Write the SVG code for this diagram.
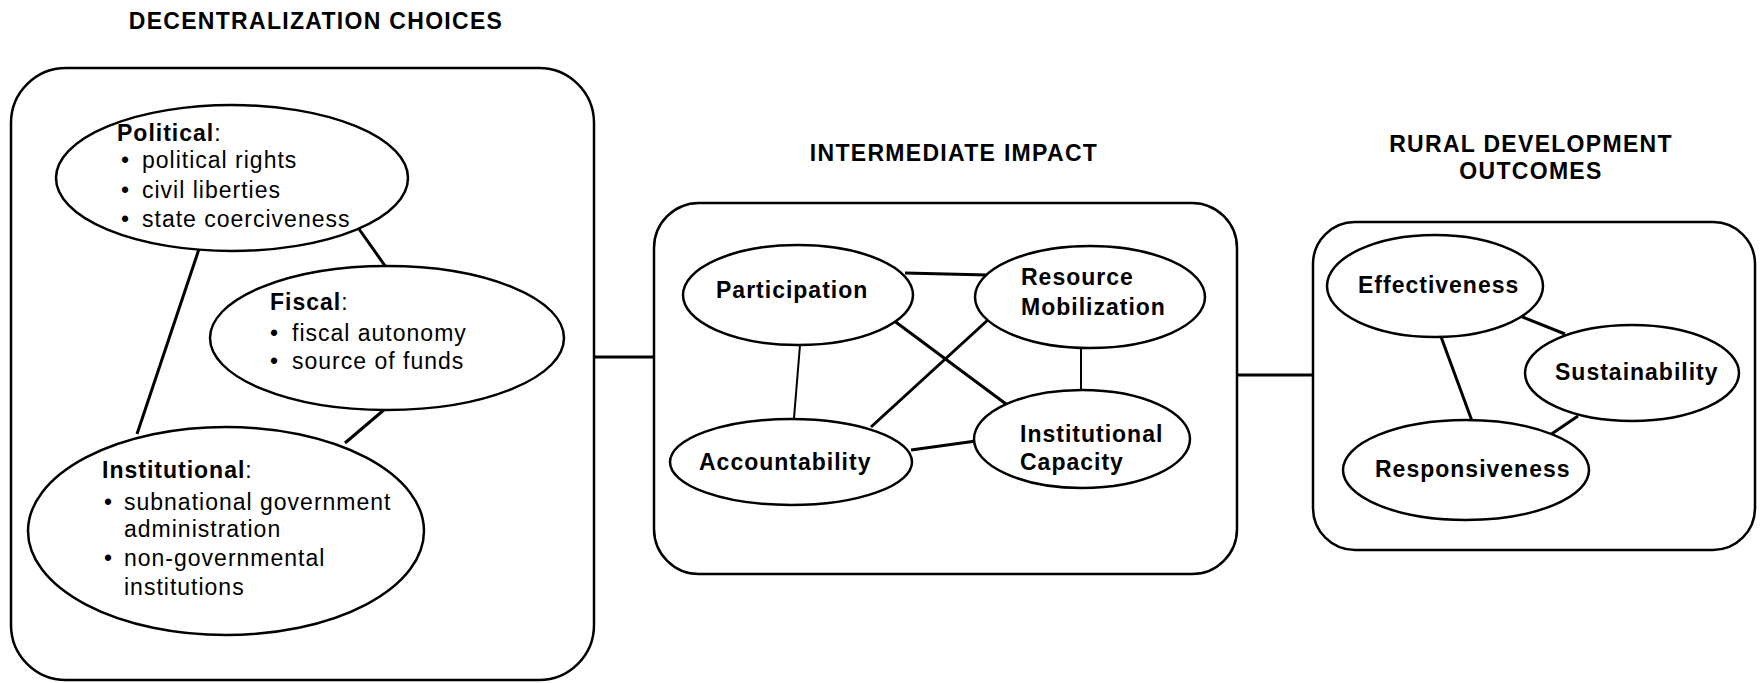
<svg xmlns="http://www.w3.org/2000/svg" width="1762" height="683" viewBox="0 0 1762 683">
<style>
.box{fill:none;stroke:#000;stroke-width:2.5}
.ell{fill:#fff;stroke:#000;stroke-width:2.5}
.ln{stroke:#000;stroke-width:3;fill:none}
.thin{stroke:#000;stroke-width:2;fill:none}
text{font-family:"Liberation Sans",Arial,sans-serif;font-size:23px;fill:#000;letter-spacing:1px}
.t{font-weight:bold;letter-spacing:1.3px;text-anchor:middle}
.b{font-weight:bold}
</style>
<rect width="1762" height="683" fill="#fff"/>
<text class="t" x="316" y="29">DECENTRALIZATION CHOICES</text>
<text class="t" x="954" y="161">INTERMEDIATE IMPACT</text>
<text class="t" x="1531" y="152">RURAL DEVELOPMENT</text>
<text class="t" x="1531" y="179">OUTCOMES</text>

<g id="box-left"><rect class="box" x="11" y="68" width="583" height="612" rx="55" ry="55"/></g>
<g id="box-middle"><rect class="box" x="654" y="203" width="583" height="371" rx="45" ry="45"/></g>
<g id="box-right"><rect class="box" x="1313" y="222" width="442" height="328" rx="42" ry="42"/></g>

<g id="connectors">
<line class="ln" x1="594" y1="357" x2="654" y2="357"/>
<line class="ln" x1="1237" y1="375" x2="1313" y2="375"/>
<line class="ln" x1="199" y1="249" x2="137" y2="434"/>
<line class="ln" x1="359" y1="229" x2="388" y2="270"/>
<line class="ln" x1="385" y1="409" x2="345" y2="443"/>
<line class="ln" x1="905" y1="273" x2="988" y2="275"/>
<line class="thin" x1="800" y1="345" x2="794" y2="418"/>
<line class="ln" x1="893" y1="320" x2="1006" y2="404"/>
<line class="ln" x1="990" y1="318" x2="871" y2="427"/>
<line class="thin" x1="1081" y1="346" x2="1081" y2="391"/>
<line class="ln" x1="911" y1="450" x2="976" y2="441"/>
<line class="ln" x1="1520" y1="316" x2="1565" y2="334"/>
<line class="ln" x1="1440" y1="334" x2="1472" y2="421"/>
<line class="ln" x1="1578" y1="416" x2="1550" y2="435"/>
</g>

<g id="political">
<ellipse class="ell" cx="232" cy="178" rx="176" ry="73"/>
<text x="117" y="141"><tspan class="b">Political</tspan>:</text>
<text x="121" y="168">•</text><text x="142" y="168">political rights</text>
<text x="121" y="198">•</text><text x="142" y="198">civil liberties</text>
<text x="121" y="227">•</text><text x="142" y="227">state coerciveness</text>
</g>
<g id="fiscal">
<ellipse class="ell" cx="387" cy="338" rx="177" ry="72"/>
<text x="270" y="310"><tspan class="b">Fiscal</tspan>:</text>
<text x="270" y="341">•</text><text x="292" y="341">fiscal autonomy</text>
<text x="270" y="369">•</text><text x="292" y="369">source of funds</text>
</g>
<g id="institutional">
<ellipse class="ell" cx="226" cy="531" rx="198" ry="104"/>
<text x="102" y="478"><tspan class="b">Institutional</tspan>:</text>
<text x="104" y="510">•</text><text x="124" y="510">subnational government</text>
<text x="124" y="537">administration</text>
<text x="104" y="566">•</text><text x="124" y="566">non-governmental</text>
<text x="124" y="595">institutions</text>
</g>

<g id="participation">
<ellipse class="ell" cx="798" cy="295" rx="115" ry="50"/>
<text class="b" x="716" y="298">Participation</text>
</g>
<g id="resource">
<ellipse class="ell" cx="1090" cy="297" rx="115" ry="51"/>
<text class="b" x="1021" y="285">Resource</text>
<text class="b" x="1021" y="315">Mobilization</text>
</g>
<g id="accountability">
<ellipse class="ell" cx="791" cy="462" rx="121" ry="43"/>
<text class="b" x="699" y="470">Accountability</text>
</g>
<g id="institutional-capacity">
<ellipse class="ell" cx="1082" cy="439" rx="108" ry="49"/>
<text class="b" x="1020" y="442">Institutional</text>
<text class="b" x="1020" y="470">Capacity</text>
</g>

<g id="effectiveness">
<ellipse class="ell" cx="1435" cy="286" rx="108" ry="51"/>
<text class="b" x="1358" y="293">Effectiveness</text>
</g>
<g id="sustainability">
<ellipse class="ell" cx="1632" cy="373" rx="107" ry="48"/>
<text class="b" x="1555" y="380">Sustainability</text>
</g>
<g id="responsiveness">
<ellipse class="ell" cx="1466" cy="470" rx="123" ry="50"/>
<text class="b" x="1375" y="477">Responsiveness</text>
</g>
</svg>
